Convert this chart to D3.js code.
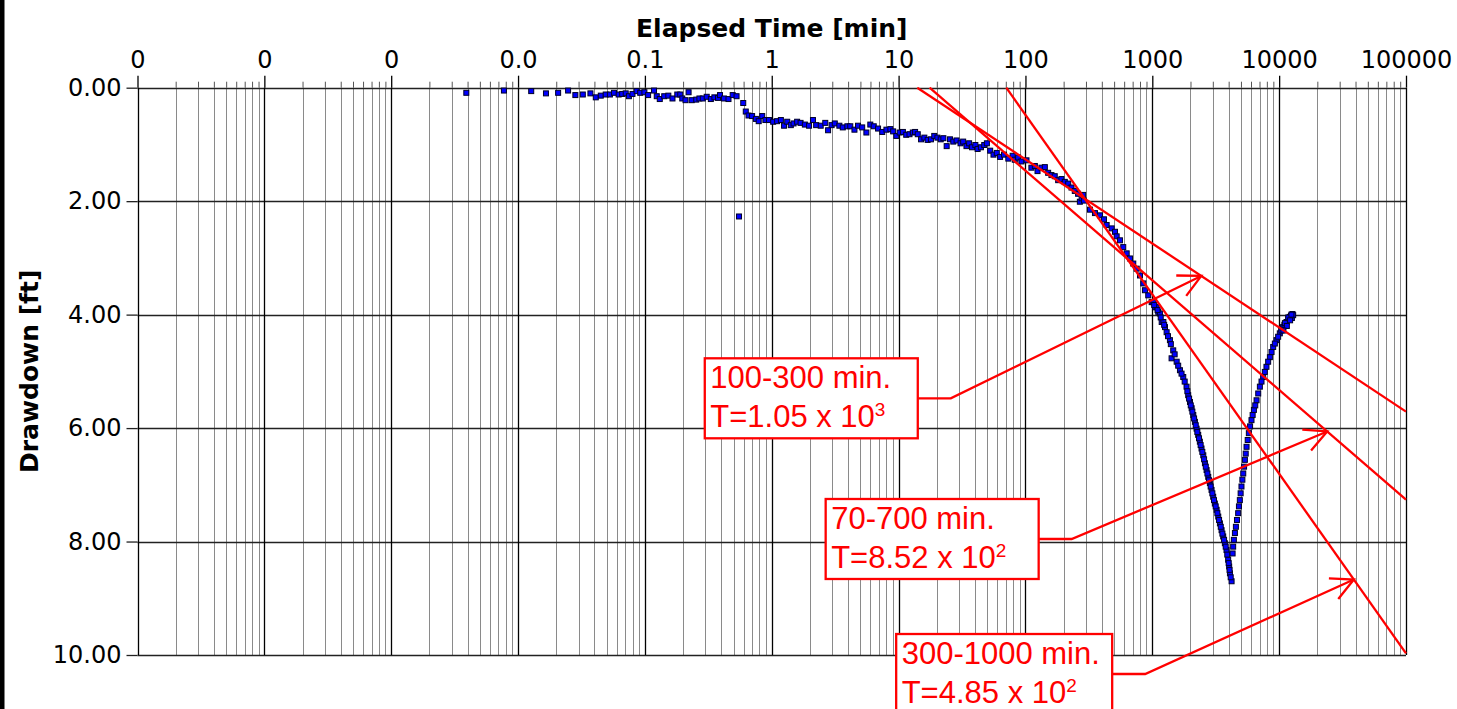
<!DOCTYPE html>
<html><head><meta charset="utf-8">
<script src="https://cdn.jsdelivr.net/npm/d3@7"></script>
<style>body{margin:0;background:#fff;} svg{display:block;}</style>
</head><body>
<svg id="chart" width="1457" height="709"></svg>
<script>
// ---- data (elapsed time in minutes, drawdown in feet) ----
const timeMin = [
0.00391,0.00774,0.0127,0.0166,0.0207,0.0248,0.0283,0.0324,0.0372,0.0410,0.0449,0.0491,0.0530,0.0571,0.0621,0.0662,0.0706,0.0748,0.0798,0.0861,0.0918,0.0991,
0.106,0.118,0.124,0.131,0.142,0.153,0.165,0.180,0.190,0.197,0.209,0.221,0.234,0.254,0.269,0.286,0.307,0.331,0.353,0.377,0.391,0.420,0.456,0.492,0.528,0.552,
0.596,0.624,0.656,0.700,0.750,0.789,0.841,0.891,0.951,
1.026,1.102,1.180,1.250,1.324,1.413,1.486,1.585,1.687,1.824,1.968,2.113,2.239,2.432,2.642,2.780,2.965,3.141,3.412,3.631,3.945,4.159,4.487,4.786,5.164,5.572,5.984,6.368,6.887,7.430,8.017,8.610,9.057,
9.594,10.19,10.81,11.48,12.19,12.94,13.49,14.16,15.03,15.96,16.94,17.99,19.10,20.23,21.48,22.54,23.93,25.41,26.98,28.64,30.76,32.28,34.28,35.97,37.93,40.27,41.98,44.57,47.32,49.66,52.72,55.98,59.43,63.10,67.76,73.28,79.25,
82.41,87.5,92.9,101.9,111.4,118.6,124.5,133.7,142.2,151.0,160.3,170.2,181.1,192.3,204.2,217.3,230.7,244.9,260.0,268.5,
277.3,285.1,289.1,322.8,353.2,387.3,415.9,436.5,478.6,508.2,523.6,555.9,590.2,628.1,666.8,707.9,753.4,799.8,849.2,875.0,928.9,988.5,
1019,1050,1081,1114,1148,1186,1222,1259,1297,1377,1419,1462,1556,1652,1754,1862,1919,1982,2042,2104,2168,2234,2301,2371,2443,2523,2600,2679,2761,2844,2931,3020,3112,3214,3311,3412,3516,3622,3733,3846,3963,4036,4093,4217,
1035,1100,1165,1240,1330,1400,1500,1600,1700,1800,1890,1950,2010,2070,2135,2200,2265,2335,2405,2480,2560,2640,2720,2800,2885,2975,3065,3160,3260,3360,3465,3570,3680,3790,3900,4000,4065,4150,
4295,4395,4560,4753,4898,5047,5212,5370,5534,5768,6053,6324,6637,7047,7482,7943,8453,8974,9528,10120,10400,10740,11000,11430,11800,12130,12400,12600,12740,12900,
4340,4480,4650,4820,4970,5130,5290,5450,5650,5900,6180,6480,6840,7260,7710,8190,8710,9250,9820,10430,11100,11800,12500,12200,11500,10800
];
const drawdownFt = [
0.09,0.05,0.06,0.10,0.09,0.05,0.13,0.12,0.10,0.17,0.14,0.12,0.12,0.09,0.12,0.11,0.10,0.15,0.11,0.06,0.09,0.08,
0.13,0.05,0.15,0.20,0.15,0.14,0.19,0.12,0.12,0.19,0.22,0.08,0.22,0.21,0.19,0.19,0.16,0.20,0.17,0.18,0.13,0.19,0.20,0.13,0.15,2.27,
0.27,0.42,0.49,0.50,0.55,0.59,0.50,0.57,0.57,
0.60,0.59,0.57,0.67,0.60,0.66,0.63,0.60,0.62,0.65,0.67,0.57,0.66,0.67,0.62,0.75,0.66,0.63,0.67,0.70,0.68,0.68,0.74,0.67,0.70,0.79,0.65,0.68,0.72,0.78,0.74,0.73,0.77,
0.85,0.79,0.78,0.83,0.82,0.79,0.78,0.82,0.91,0.88,0.92,0.91,0.85,0.88,0.91,0.89,1.03,0.91,0.95,0.93,0.98,0.95,1.03,0.98,1.05,1.01,1.08,1.05,1.01,0.98,1.11,1.18,1.15,1.22,1.18,1.25,1.20,
1.27,1.23,1.30,1.28,1.41,1.38,1.47,1.41,1.40,1.50,1.54,1.56,1.63,1.61,1.66,1.69,1.76,1.82,1.87,2.01,
1.95,1.89,1.99,2.15,2.21,2.25,2.32,2.42,2.48,2.54,2.62,2.69,2.81,2.92,3.01,3.10,3.19,3.31,3.45,3.57,3.66,3.78,
3.78,3.87,3.87,3.95,3.98,4.13,4.13,4.22,4.31,4.45,4.77,4.63,4.83,4.98,5.10,5.27,5.42,5.54,5.65,5.77,5.89,6.01,6.12,6.24,6.36,6.48,6.62,6.74,6.86,6.97,7.09,7.21,7.33,7.44,7.56,7.68,7.80,7.91,8.03,8.15,8.32,8.44,8.56,8.70,
3.83,3.92,4.05,4.18,4.38,4.52,4.70,4.90,5.04,5.18,5.35,5.48,5.60,5.71,5.83,5.95,6.07,6.18,6.30,6.42,6.55,6.68,6.80,6.92,7.03,7.15,7.27,7.38,7.50,7.62,7.74,7.86,7.97,8.09,8.23,8.38,8.50,8.63,
8.21,7.97,7.74,7.50,7.27,7.03,6.80,6.56,6.33,6.09,5.86,5.68,5.51,5.27,5.10,4.92,4.75,4.57,4.45,4.33,4.25,4.22,4.18,4.13,4.08,4.04,4.02,4.06,3.99,4.01,
8.09,7.85,7.62,7.38,7.15,6.91,6.68,6.45,6.21,5.97,5.77,5.60,5.39,5.18,5.01,4.83,4.66,4.51,4.39,4.28,4.15,4.05,4.00,4.10,4.20,4.28
];
const xTickValues = [1e-5,1e-4,1e-3,1e-2,1e-1,1,10,100,1000,10000,100000];
const xTickLabels = ["0","0","0","0.0","0.1","1","10","100","1000","10000","100000"];
const yTickValues = [0,2,4,6,8,10];
const yTickLabels = ["0.00","2.00","4.00","6.00","8.00","10.00"];
// straight-line (Cooper-Jacob) fits: start at zero drawdown, end at right edge
const fitStartTime = [14.03, 17.54, 70.6];
const fitEndTime = [100000, 100000, 100000];
const fitEndDrawdown = [5.71, 7.26, 9.97];
// annotations
const annoLine1 = ["100-300 min.", "70-700 min.", "300-1000 min."];
const annoLine2 = ["T=1.05 x 10", "T=8.52 x 10", "T=4.85 x 10"];
const annoExponent = ["3", "2", "2"];
const annoBoxTime = [0.2965, 2.661, 9.57];
const annoBoxDrawdown = [4.77, 7.25, 9.63];
const annoBoxWidth = [213, 213, 216];
const annoTipTime = [2432, 23930, 38820];

// ---- drawing ----
const svg = d3.select("#chart");
const x = d3.scaleLog().domain([1e-5, 1e5]).range([137.5, 1406]);
const y = d3.scaleLinear().domain([0, 10]).range([87.7, 655]);
const [x0, x1] = x.range();
const [y0, y1] = y.range();

svg.append("rect").attr("x", 0).attr("y", 0).attr("width", 1457).attr("height", 709).attr("fill", "#fff");
svg.append("rect").attr("x", 0).attr("y", 0).attr("width", 4.5).attr("height", 709).attr("fill", "#000");

const minorVals = [];
for (let i = 0; i < xTickValues.length - 1; i++) {
  for (let k = 2; k <= 9; k++) minorVals.push(k * xTickValues[i]);
}

// minor vertical grid
svg.append("g").selectAll("line").data(minorVals).join("line")
  .attr("x1", d => Math.round(x(d)) + 0.5).attr("x2", d => Math.round(x(d)) + 0.5)
  .attr("y1", y0).attr("y2", y1)
  .attr("stroke", "#8a8a8a").attr("stroke-width", 1);

// horizontal grid
svg.append("g").selectAll("line").data(yTickValues).join("line")
  .attr("x1", x0).attr("x2", x1)
  .attr("y1", d => Math.round(y(d)) + 0.5).attr("y2", d => Math.round(y(d)) + 0.5)
  .attr("stroke", "#222").attr("stroke-width", 1.3);

// major vertical grid
svg.append("g").selectAll("line").data(xTickValues).join("line")
  .attr("x1", d => Math.round(x(d)) + 0.5).attr("x2", d => Math.round(x(d)) + 0.5)
  .attr("y1", y0).attr("y2", y1)
  .attr("stroke", "#000").attr("stroke-width", 1.3);

// top axis (major)
const xAxis = d3.axisTop(x).tickValues(xTickValues)
  .tickFormat((d, i) => xTickLabels[i]).tickSize(12).tickPadding(8);
const gx = svg.append("g").attr("transform", `translate(0,${y0})`).call(xAxis);
gx.select(".domain").remove();
gx.selectAll(".tick line").attr("stroke", "#000").attr("stroke-width", 1.3);
gx.selectAll(".tick text").attr("font-family", "DejaVu Sans, Verdana, sans-serif")
  .attr("font-size", 24).attr("fill", "#000");

// top axis (minor ticks)
const xMinor = d3.axisTop(x).tickValues(minorVals).tickFormat("").tickSize(6);
const gxm = svg.append("g").attr("transform", `translate(0,${y0})`).call(xMinor);
gxm.select(".domain").remove();
gxm.selectAll(".tick line").attr("stroke", "#555");

// left axis
const yAxis = d3.axisLeft(y).tickValues(yTickValues)
  .tickFormat((d, i) => yTickLabels[i]).tickSize(11).tickPadding(5);
const gy = svg.append("g").attr("transform", `translate(${x0},0)`).call(yAxis);
gy.select(".domain").remove();
gy.selectAll(".tick line").attr("stroke", "#222").attr("stroke-width", 1.3);
gy.selectAll(".tick text").attr("font-family", "DejaVu Sans, Verdana, sans-serif")
  .attr("font-size", 24).attr("fill", "#000");

// axis titles
svg.append("text").attr("x", (x0 + x1) / 2).attr("y", 37)
  .attr("text-anchor", "middle").attr("font-family", "DejaVu Sans, Verdana, sans-serif")
  .attr("font-weight", "bold").attr("font-size", 25).text("Elapsed Time [min]");
svg.append("text").attr("transform", `translate(38,${(y0 + y1) / 2}) rotate(-90)`)
  .attr("text-anchor", "middle").attr("font-family", "DejaVu Sans, Verdana, sans-serif")
  .attr("font-weight", "bold").attr("font-size", 25).text("Drawdown [ft]");

// clip
svg.append("defs").append("clipPath").attr("id", "plotclip")
  .append("rect").attr("x", x0).attr("y", y0 - 1).attr("width", x1 - x0 + 1).attr("height", y1 - y0 + 2);

// data markers
const pts = timeMin.map((t, i) => ({ t, d: drawdownFt[i] }));
svg.append("g").attr("clip-path", "url(#plotclip)").selectAll("rect").data(pts).join("rect")
  .attr("x", p => x(p.t) - 2.5).attr("y", p => y(p.d) - 2.5)
  .attr("width", 5).attr("height", 5)
  .attr("fill", "#0000ff").attr("stroke", "#000028").attr("stroke-width", 1);

// fitted straight lines
const fitLines = fitStartTime.map((t, i) => ({ t0: t, d0: 0, t1: fitEndTime[i], d1: fitEndDrawdown[i] }));
svg.append("g").attr("clip-path", "url(#plotclip)").selectAll("line").data(fitLines).join("line")
  .attr("x1", f => x(f.t0)).attr("y1", f => y(f.d0))
  .attr("x2", f => x(f.t1)).attr("y2", f => y(f.d1))
  .attr("stroke", "#ff0000").attr("stroke-width", 2.3);

function fitAt(f, t) {
  const a = Math.log10(f.t0), b = Math.log10(f.t1);
  return f.d0 + (f.d1 - f.d0) * (Math.log10(t) - a) / (b - a);
}

// annotations
const boxH = 80;
annoLine1.forEach((txt, i) => {
  const bx = x(annoBoxTime[i]), by = y(annoBoxDrawdown[i]);
  const bw = annoBoxWidth[i];
  const tipX = x(annoTipTime[i]), tipY = y(fitAt(fitLines[i], annoTipTime[i]));
  const ey = by + boxH / 2, sx = bx + bw, ex = sx + 33;
  const g = svg.append("g");
  g.append("polyline").attr("points", `${sx},${ey} ${ex},${ey} ${tipX},${tipY}`)
    .attr("fill", "none").attr("stroke", "#ff0000").attr("stroke-width", 2.3);
  const ang = Math.atan2(tipY - ey, tipX - ex) + Math.PI;
  const L = 25, da = 27 * Math.PI / 180;
  g.append("polyline").attr("points",
    `${tipX + L * Math.cos(ang + da)},${tipY + L * Math.sin(ang + da)} ${tipX},${tipY} ${tipX + L * Math.cos(ang - da)},${tipY + L * Math.sin(ang - da)}`)
    .attr("fill", "none").attr("stroke", "#ff0000").attr("stroke-width", 2.3);
  g.append("rect").attr("x", bx).attr("y", by).attr("width", bw).attr("height", boxH)
    .attr("fill", "#fff").attr("stroke", "#ff0000").attr("stroke-width", 2.3);
  const tf = "Liberation Sans, Arial, sans-serif";
  g.append("text").attr("x", bx + 5.5).attr("y", by + 30).attr("font-family", tf)
    .attr("font-size", 31).attr("fill", "#ff0000").text(txt);
  const t2 = g.append("text").attr("x", bx + 5.5).attr("y", by + 69).attr("font-family", tf)
    .attr("font-size", 31).attr("fill", "#ff0000");
  t2.append("tspan").text(annoLine2[i]);
  t2.append("tspan").attr("font-size", 19).attr("dy", -11).text(annoExponent[i]);
});
</script>
</body></html>
